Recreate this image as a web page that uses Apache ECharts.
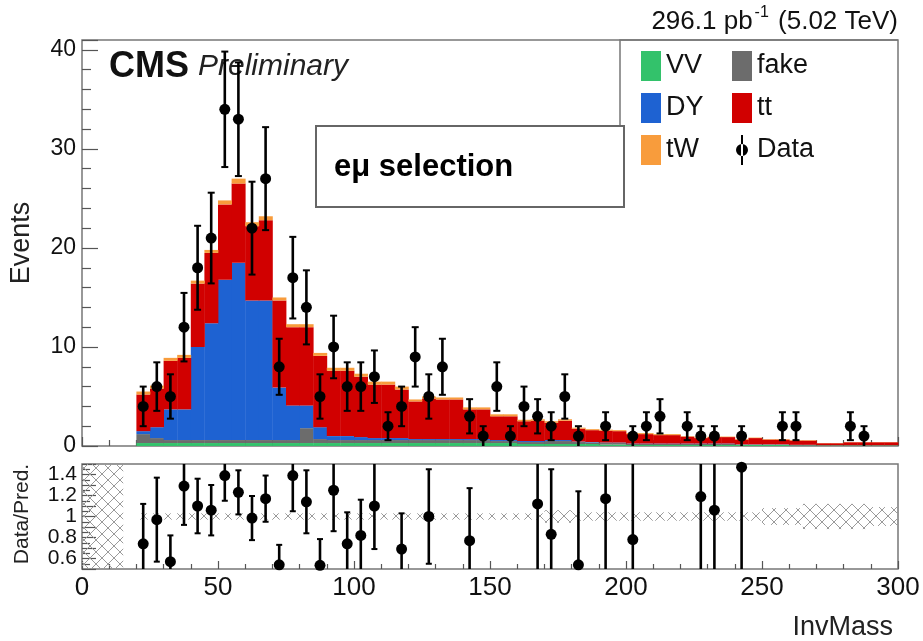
<!DOCTYPE html>
<html>
<head>
<meta charset="utf-8">
<script src="https://cdn.jsdelivr.net/npm/echarts@6/dist/echarts.min.js"></script>
<style>
  html, body { margin: 0; padding: 0; background: #fff; }
  #main { width: 923px; height: 641px; }
</style>
</head>
<body>
<div id="main"></div>
<script>
var FONT = '"Liberation Sans", Arial, Helvetica, sans-serif';

// binning of the invariant mass histogram (GeV)
var binStart = 0;
var binWidth = 5;

// stacked MC, events per 5 GeV bin from 0 to 300
var vvEvents = [0, 0, 0, 0,
  0.3, 0.3, 0.3, 0.3, 0.3, 0.3, 0.3, 0.3, 0.3, 0.3, 0.3, 0.3, 0.3, 0.3, 0.3, 0.3,
  0.3, 0.3, 0.3, 0.3, 0.3, 0.3, 0.3, 0.3, 0.3, 0.3, 0.3, 0.3, 0.2, 0.2, 0.2, 0.2,
  0.2, 0.2, 0.15, 0.15, 0.1, 0.1, 0.1, 0.1, 0.1, 0.1, 0.1, 0.1, 0.1, 0.1, 0.1, 0.1,
  0.05, 0.05, 0.05, 0.05, 0.05, 0.05, 0.05, 0.05];
var fakeEvents = [0, 0, 0, 0,
  0.9, 0.5, 0.3, 0.3, 0.3, 0.3, 0.3, 0.3, 0.3, 0.3, 0.3, 0.3, 1.5, 0.4, 0.3, 0.3,
  0.3, 0.3, 0.3, 0.3, 0.3, 0.3, 0.3, 0.3, 0.3, 0.3, 0.2, 0.2, 0.2, 0.2, 0.3, 0.3,
  0.2, 0.15, 0.15, 0.15, 0.1, 0.1, 0.1, 0.1, 0.1, 0.1, 0.1, 0.1, 0.05, 0.05, 0.05, 0.05,
  0.05, 0.05, 0.03, 0.03, 0.03, 0.03, 0.03, 0.03];
var dyEvents = [0, 0, 0, 0,
  0.3, 1.1, 3.1, 3.1, 9.4, 11.8, 16.2, 17.9, 14.1, 14.1, 5.3, 3.5, 2.3, 1.2, 0.4, 0.4,
  0.3, 0.2, 0.2, 0.2, 0.1, 0.1, 0.1, 0.1, 0.1, 0.1, 0.1, 0.1, 0.1, 0.1, 0.1, 0.1,
  0.05, 0.05, 0.05, 0.05, 0.05, 0.05, 0.05, 0.05, 0.05, 0.05, 0.05, 0.05, 0.02, 0.02, 0.02, 0.02,
  0.02, 0.02, 0, 0, 0, 0, 0, 0];
var ttEvents = [0, 0, 0, 0,
  3.7, 3.9, 4.9, 5.2, 6.4, 7.1, 7.6, 8.0, 7.5, 8.1, 8.8, 7.9, 7.9, 7.2, 6.6, 6.6,
  6.1, 5.4, 5.4, 4.9, 3.8, 4.1, 4.0, 4.0, 3.0, 3.0, 2.4, 2.4, 2.0, 2.05, 1.75, 1.95,
  1.3, 1.2, 1.2, 1.15, 0.95, 0.95, 0.85, 0.85, 0.7, 0.55, 0.65, 0.65, 0.48, 0.63, 0.48, 0.48,
  0.43, 0.43, 0.2, 0.2, 0.3, 0.3, 0.3, 0.3];
var twEvents = [0, 0, 0, 0,
  0.3, 0.3, 0.3, 0.3, 0.3, 0.3, 0.4, 0.5, 0.4, 0.4, 0.3, 0.3, 0.3, 0.3, 0.3, 0.3,
  0.3, 0.3, 0.3, 0.3, 0.2, 0.2, 0.2, 0.2, 0.2, 0.2, 0.2, 0.2, 0.15, 0.15, 0.15, 0.15,
  0.1, 0.1, 0.1, 0.1, 0.1, 0.1, 0.1, 0.1, 0.05, 0.05, 0.05, 0.05, 0.05, 0.05, 0.05, 0.05,
  0.05, 0.05, 0.02, 0.02, 0.02, 0.02, 0.02, 0.02];

// relative MC stat. uncertainty (hatched band in the ratio)
var mcUnc = [0.5, 0.5, 0.5, 0,
  0.03, 0.03, 0.03, 0.03, 0.03, 0.03, 0.03, 0.03, 0.03, 0.03, 0.03, 0.03, 0.03, 0.03, 0.03, 0.03,
  0.03, 0.03, 0.03, 0.03, 0.03, 0.03, 0.03, 0.03, 0.03, 0.03, 0.03, 0.03, 0.03, 0.03, 0.06, 0.06,
  0.04, 0.04, 0.04, 0.04, 0.04, 0.04, 0.04, 0.04, 0.04, 0.04, 0.04, 0.04, 0.04, 0.04, 0.08, 0.08,
  0.08, 0.12, 0.12, 0.12, 0.12, 0.12, 0.09, 0.09];

// data (non-empty bins only)
var dataMass = [22.5, 27.5, 32.5, 37.5, 42.5, 47.5, 52.5, 57.5, 62.5, 67.5, 72.5, 77.5, 82.5, 87.5,
  92.5, 97.5, 102.5, 107.5, 112.5, 117.5, 122.5, 127.5, 132.5, 142.5, 147.5, 152.5, 157.5, 162.5,
  167.5, 172.5, 177.5, 182.5, 192.5, 202.5, 207.5, 212.5, 222.5, 227.5, 232.5, 242.5, 257.5, 262.5,
  282.5, 287.5];
var dataCounts = [4, 6, 5, 12, 18, 21, 34, 33, 22, 27, 8, 17, 14, 5,
  10, 6, 6, 7, 2, 4, 9, 5, 8, 3, 1, 6, 1, 4,
  3, 2, 5, 1, 2, 1, 2, 3, 2, 1, 1, 1, 2, 2,
  2, 1];
var dataErr = [2, 2.45, 2.24, 3.46, 4.24, 4.58, 5.83, 5.74, 4.69, 5.2, 2.83, 4.12, 3.74, 2.24,
  3.16, 2.45, 2.45, 2.65, 1.41, 2, 3, 2.24, 2.83, 1.73, 1, 2.45, 1, 2,
  1.73, 1.41, 2.24, 1, 1.41, 1, 1.41, 1.73, 1.41, 1, 1, 1, 1.41, 1.41,
  1.41, 1];

// Data / Pred. points visible in the ratio window
var ratioMass = [22.5, 27.5, 32.5, 37.5, 42.5, 47.5, 52.5, 57.5, 62.5, 67.5, 72.5, 77.5, 82.5, 87.5,
  92.5, 97.5, 102.5, 107.5, 117.5, 127.5, 142.5, 167.5, 172.5, 182.5, 192.5, 202.5, 227.5, 232.5, 242.5];
var ratioVal = [0.74, 0.97, 0.57, 1.29, 1.10, 1.06, 1.39, 1.23, 0.985, 1.17, 0.54, 1.39, 1.14, 0.535,
  1.25, 0.74, 0.82, 1.10, 0.69, 1.0, 0.77, 1.12, 0.83, 0.54, 1.17, 0.78, 1.19, 1.06, 1.47];
var ratioErr = [0.38, 0.40, 0.25, 0.37, 0.26, 0.24, 0.24, 0.21, 0.21, 0.22, 0.19, 0.34, 0.30, 0.25,
  0.39, 0.30, 0.34, 0.41, 0.34, 0.45, 0.50, 0.64, 0.62, 0.70, 0.83, 0.78, 1.19, 1.06, 1.47];

var xTicks = [0, 50, 100, 150, 200, 250, 300];
var ratioTicks = [0.6, 0.8, 1, 1.2, 1.4];

var processes = [
  { name: 'VV', color: '#33c26b', values: vvEvents },
  { name: 'fake', color: '#6c6c6c', values: fakeEvents },
  { name: 'DY', color: '#1e62d2', values: dyEvents },
  { name: 'tt', color: '#d10000', values: ttEvents },
  { name: 'tW', color: '#f89c3c', values: twEvents }
];

// hatch pattern for the uncertainty band
function makeHatch() {
  var c = document.createElement('canvas');
  c.width = 12; c.height = 12;
  var ctx = c.getContext('2d');
  ctx.strokeStyle = '#9a9a9a';
  ctx.lineWidth = 1;
  ctx.beginPath();
  ctx.moveTo(0, 0); ctx.lineTo(12, 12);
  ctx.moveTo(12, 0); ctx.lineTo(0, 12);
  ctx.stroke();
  return c;
}
var hatch = makeHatch();

function rectItem(api, fill) {
  var p0 = api.coord([api.value(0), api.value(3)]);
  var p1 = api.coord([api.value(1), api.value(2)]);
  if (Math.abs(p1[1] - p0[1]) < 0.01) return null;
  return {
    type: 'rect',
    shape: { x: p0[0], y: p0[1], width: p1[0] - p0[0] + 0.4, height: p1[1] - p0[1] },
    style: { fill: fill }
  };
}

var series = [];
var base = vvEvents.map(function () { return 0; });
processes.forEach(function (p) {
  var items = p.values.map(function (v, i) {
    var lo = binStart + i * binWidth;
    return [lo, lo + binWidth, base[i], base[i] + v];
  });
  base = base.map(function (b, i) { return b + p.values[i]; });
  series.push({
    type: 'custom',
    name: p.name,
    xAxisIndex: 0,
    yAxisIndex: 0,
    itemStyle: { color: p.color },
    encode: { x: [0, 1], y: [2, 3] },
    data: items,
    renderItem: function (params, api) {
      return rectItem(api, p.color);
    }
  });
});

function errorBars(api, yMin, yMax, capHalf) {
  var x = api.value(0), y = api.value(1), e = api.value(2);
  var lo = Math.max(y - e, yMin), hi = Math.min(y + e, yMax);
  var pc = api.coord([x, y]);
  var pl = api.coord([x, lo]);
  var ph = api.coord([x, hi]);
  var children = [{
    type: 'line',
    shape: { x1: pc[0], y1: pl[1], x2: pc[0], y2: ph[1] },
    style: { stroke: '#000', lineWidth: 2.6 }
  }];
  if (y + e < yMax) children.push({
    type: 'line', shape: { x1: pc[0] - capHalf, y1: ph[1], x2: pc[0] + capHalf, y2: ph[1] },
    style: { stroke: '#000', lineWidth: 2 }
  });
  if (y - e > yMin) children.push({
    type: 'line', shape: { x1: pc[0] - capHalf, y1: pl[1], x2: pc[0] + capHalf, y2: pl[1] },
    style: { stroke: '#000', lineWidth: 2 }
  });
  children.push({
    type: 'circle', shape: { cx: pc[0], cy: pc[1], r: 5.5 },
    style: { fill: '#000' }
  });
  return { type: 'group', children: children };
}

series.push({
  type: 'custom',
  name: 'Data',
  xAxisIndex: 0,
  yAxisIndex: 0,
  itemStyle: { color: '#000' },
  encode: { x: 0, y: 1 },
  data: dataMass.map(function (m, i) { return [m, dataCounts[i], dataErr[i]]; }),
  renderItem: function (params, api) { return errorBars(api, 0, 41, 3.5); },
  z: 5
});

series.push({
  type: 'custom',
  name: 'MC unc',
  xAxisIndex: 1,
  yAxisIndex: 1,
  encode: { x: [0, 1], y: [2, 3] },
  data: mcUnc.map(function (u, i) {
    var lo = binStart + i * binWidth;
    return [lo, lo + binWidth, Math.max(1 - u, 0.5), Math.min(1 + u, 1.5)];
  }),
  renderItem: function (params, api) {
    return rectItem(api, { image: hatch, repeat: 'repeat' });
  }
});

series.push({
  type: 'custom',
  name: 'Ratio',
  xAxisIndex: 1,
  yAxisIndex: 1,
  encode: { x: 0, y: 1 },
  data: ratioMass.map(function (m, i) { return [m, ratioVal[i], ratioErr[i]]; }),
  renderItem: function (params, api) { return errorBars(api, 0.5, 1.5, 3); },
  z: 5
});

var tickStyle = { color: '#555', width: 1.2 };

var option = {
  animation: false,
  backgroundColor: '#fff',
  textStyle: { fontFamily: FONT },
  grid: [
    { left: 82, top: 40, width: 816, height: 406, show: true, borderColor: '#777', borderWidth: 1.5, backgroundColor: 'transparent' },
    { left: 82, top: 464, width: 816, height: 105, show: true, borderColor: '#777', borderWidth: 1.5, backgroundColor: 'transparent' }
  ],
  xAxis: [
    {
      type: 'value', gridIndex: 0, min: 0, max: 300, interval: 50,
      axisLine: { show: false },
      axisTick: { inside: true, length: 9, lineStyle: tickStyle },
      minorTick: { show: true, splitNumber: 5, length: 6, lineStyle: tickStyle },
      axisLabel: { show: false },
      splitLine: { show: false }
    },
    {
      type: 'value', gridIndex: 1, min: 0, max: 300, interval: 50,
      axisLine: { show: false },
      axisTick: { inside: true, length: 8, lineStyle: tickStyle },
      minorTick: { show: true, splitNumber: 5, length: 5, lineStyle: tickStyle },
      axisLabel: {
        margin: 6, fontSize: 26, color: '#111', fontFamily: FONT,
        showMinLabel: true, showMaxLabel: true,
        formatter: function (v) { return xTicks.indexOf(v) >= 0 ? String(v) : ''; }
      },
      splitLine: { show: false }
    }
  ],
  yAxis: [
    {
      type: 'value', gridIndex: 0, min: 0, max: 41, interval: 10,
      axisLine: { show: false },
      axisTick: { inside: true, length: 16, lineStyle: tickStyle },
      minorTick: { show: true, splitNumber: 5, length: 9, lineStyle: tickStyle },
      axisLabel: {
        margin: 6, fontSize: 23, color: '#111', fontFamily: FONT,
        formatter: function (v) { return v % 10 === 0 ? String(v) : ''; }
      },
      splitLine: { show: false }
    },
    {
      type: 'value', gridIndex: 1, min: 0.5, max: 1.5, interval: 0.1,
      axisLine: { show: false },
      axisTick: { inside: true, length: 14, lineStyle: tickStyle },
      minorTick: { show: true, splitNumber: 2, length: 8, lineStyle: tickStyle },
      axisLabel: {
        margin: 5, fontSize: 21, color: '#111', fontFamily: FONT,
        showMinLabel: true, showMaxLabel: true,
        formatter: function (v) {
          var r = Math.round(v * 10) / 10;
          return ratioTicks.indexOf(r) >= 0 ? String(r) : '';
        }
      },
      splitLine: { show: false }
    }
  ],
  legend: [
    {
      data: ['VV', 'DY', 'tW'],
      orient: 'vertical', left: 641, top: 51,
      itemWidth: 20, itemHeight: 30, itemGap: 12, icon: 'rect',
      selectedMode: false, padding: 0,
      textStyle: { fontSize: 27, color: '#111', fontFamily: FONT }
    },
    {
      data: ['fake', 'tt', { name: 'Data', icon: 'path://M9 0h2v30h-2zM4 15a6 6 0 1 0 12 0a6 6 0 1 0 -12 0z' }],
      orient: 'vertical', left: 732, top: 51,
      itemWidth: 20, itemHeight: 30, itemGap: 12, icon: 'rect',
      selectedMode: false, padding: 0,
      textStyle: { fontSize: 27, color: '#111', fontFamily: FONT }
    }
  ],
  graphic: [
    {
      type: 'polyline', silent: true,
      shape: { points: [[620, 186], [620, 40], [898, 40]] },
      style: { stroke: '#777', lineWidth: 1.5, fill: null }
    },
    {
      type: 'rect', silent: true,
      shape: { x: 316, y: 126, width: 308, height: 81 },
      style: { fill: '#fff', stroke: '#666', lineWidth: 2 }
    },
    {
      type: 'text', silent: true, x: 334, y: 167,
      style: { text: 'eμ selection', fontSize: 31, fontWeight: 'bold', fontFamily: FONT, fill: '#000', verticalAlign: 'middle' }
    },
    {
      type: 'text', silent: true, x: 109, y: 67,
      style: {
        text: '{c|CMS}{p|Preliminary}', verticalAlign: 'middle',
        rich: {
          c: { fontSize: 36, fontWeight: 'bold', fontFamily: FONT, fill: '#111', padding: [0, 9, 0, 0] },
          p: { fontSize: 30, fontStyle: 'italic', fontFamily: FONT, fill: '#222' }
        }
      }
    },
    {
      type: 'text', silent: true, x: 898, y: 20,
      style: {
        text: '{a|296.1 pb}{s|-1}{a| (5.02 TeV)}', align: 'right', verticalAlign: 'middle',
        rich: {
          a: { fontSize: 26, fontFamily: FONT, fill: '#111', lineHeight: 30, verticalAlign: 'bottom' },
          s: { fontSize: 16, fontFamily: FONT, fill: '#111', lineHeight: 30, verticalAlign: 'top', padding: [0, 2, 0, 2] }
        }
      }
    },
    {
      type: 'text', silent: true, x: 22, y: 243, rotation: Math.PI / 2,
      style: { text: 'Events', fontSize: 27, fontFamily: FONT, fill: '#222', align: 'center', verticalAlign: 'middle' }
    },
    {
      type: 'text', silent: true, x: 22, y: 514, rotation: Math.PI / 2,
      style: { text: 'Data/Pred.', fontSize: 21, fontFamily: FONT, fill: '#222', align: 'center', verticalAlign: 'middle' }
    },
    {
      type: 'text', silent: true, x: 893, y: 628,
      style: { text: 'InvMass', fontSize: 27, fontFamily: FONT, fill: '#222', align: 'right', verticalAlign: 'middle' }
    }
  ],
  series: series
};

var chart = echarts.init(document.getElementById('main'), null, { renderer: 'canvas' });
chart.setOption(option);
</script>
</body>
</html>
